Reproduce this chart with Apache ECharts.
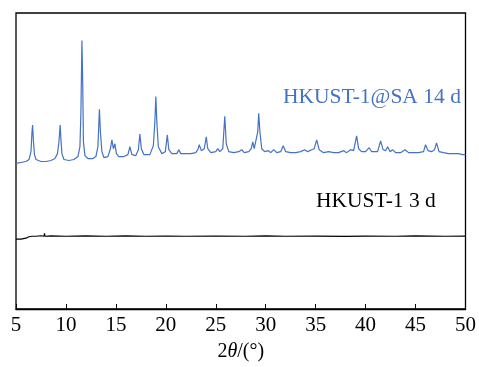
<!DOCTYPE html>
<html><head><meta charset="utf-8">
<script src="https://cdn.jsdelivr.net/npm/echarts@6/dist/echarts.min.js"></script>
<style>html,body{margin:0;padding:0;background:#fff;overflow:hidden}#c{width:479px;height:367px}</style>
</head><body><div id="c"></div>
<script>
var xTicks = [5,10,15,20,25,30,35,40,45,50];
var labels = ['HKUST-1@SA 14 d','HKUST-1 3 d'];
var xrd14d = [[5.0,148],[5.5,149],[6.0,150],[6.3,152],[6.5,160],[6.6,180],[6.66,187],[6.75,170],[6.85,157],[7.0,152],[7.5,150],[8.0,150],[8.5,151],[8.9,153],[9.15,158],[9.3,170],[9.42,187],[9.5,172],[9.6,158],[9.8,152],[10.3,151],[10.8,152],[11.2,155],[11.4,165],[11.5,200],[11.6,273],[11.68,230],[11.75,170],[11.9,156],[12.2,153],[12.7,153],[13.0,155],[13.2,165],[13.35,203],[13.45,180],[13.6,160],[13.8,154],[14.2,155],[14.45,163],[14.6,172],[14.75,163],[14.9,168],[15.05,158],[15.3,155],[15.8,155],[16.2,157],[16.4,165],[16.6,157],[17.0,156],[17.25,162],[17.4,178],[17.55,163],[17.8,157],[18.4,157],[18.75,166],[18.9,190],[19.0,216],[19.1,190],[19.25,165],[19.6,158],[19.95,160],[20.15,177],[20.3,162],[20.6,158],[21.1,158],[21.3,162],[21.5,158],[22.0,158],[22.5,158],[23.0,159],[23.2,162],[23.35,167],[23.55,161],[23.85,163],[24.05,175],[24.2,163],[24.5,159],[25.0,160],[25.2,163],[25.4,160],[25.7,163],[25.9,196],[26.05,168],[26.3,160],[26.8,159],[27.3,160],[27.6,162],[27.85,159],[28.3,160],[28.55,163],[28.7,170],[28.85,163],[29.05,165],[29.2,180],[29.3,199],[29.42,180],[29.6,163],[29.9,160],[30.25,161],[30.5,159],[30.8,162],[31.1,159],[31.5,160],[31.75,166],[32.0,160],[32.5,159],[33.0,159],[33.5,160],[33.9,162],[34.2,160],[34.6,162],[34.85,163],[35.1,172],[35.35,162],[35.8,159],[36.3,160],[36.8,159],[37.3,159],[37.8,161],[38.1,159],[38.5,162],[38.8,161],[39.1,176],[39.3,163],[39.6,160],[40.0,160],[40.35,164],[40.6,160],[41.2,160],[41.5,171],[41.75,162],[42.0,161],[42.2,165],[42.45,160],[42.7,162],[43.0,159],[43.5,159],[43.95,162],[44.3,159],[44.8,159],[45.3,159],[45.8,160],[46.0,167],[46.25,161],[46.6,160],[46.9,162],[47.1,169],[47.35,160],[47.8,159],[48.3,158],[48.8,158],[49.3,158],[49.7,157],[50.0,157]];
var xrd3d = [[5.0,71],[5.5,71],[6.0,72],[6.3,73.5],[6.6,74],[7.0,74],[7.5,74.5],[7.8,74],[7.85,77],[7.9,74],[8.5,74.3],[10,74],[12,74.3],[14,74],[16,74.3],[18,74],[20,74.2],[22,74],[25,74.2],[28,74],[30,74.3],[32,74],[35,74.2],[38,73.8],[40,74.2],[43,74],[45,74.3],[48,74],[50,74.2]];

var font = 'Liberation Serif, Times New Roman, serif';
var chart = echarts.init(document.getElementById('c'), null, {width: 479, height: 367});
chart.setOption({
  animation: false,
  grid: {left: 16, top: 13, width: 454, height: 301, show: true, borderColor: '#000', borderWidth: 1.3},
  xAxis: {
    type: 'value', min: xTicks[0], max: xTicks[xTicks.length-1], interval: 5,
    axisLine: {lineStyle: {color: '#000', width: 1.3}},
    axisTick: {inside: true, length: 5, lineStyle: {color: '#000'}},
    splitLine: {show: false},
    axisLabel: {color: '#000', fontFamily: font, fontSize: 21, margin: 6},
    name: '{a|2}{b|θ}{a|/(°)}', nameLocation: 'middle', nameGap: 33,
    nameTextStyle: {rich: {a: {fontFamily: font, fontSize: 20, color: '#000'}, b: {fontFamily: font, fontSize: 20, fontStyle: 'italic', color: '#000'}}}
  },
  yAxis: {type: 'value', min: 0, max: 301, show: false},
  series: [
    {type: 'line', data: xrd14d, showSymbol: false, lineStyle: {color: '#4472C4', width: 1.2}},
    {type: 'line', data: xrd3d, showSymbol: false, lineStyle: {color: '#000', width: 1.2}}
  ],
  graphic: [
    {type: 'text', left: 283, top: 86, style: {text: labels[0], fontFamily: font, fontSize: 21.5, fill: '#4472C4'}},
    {type: 'text', left: 316, top: 190, style: {text: labels[1], fontFamily: font, fontSize: 21.5, fill: '#000'}}
  ]
});
</script></body></html>
